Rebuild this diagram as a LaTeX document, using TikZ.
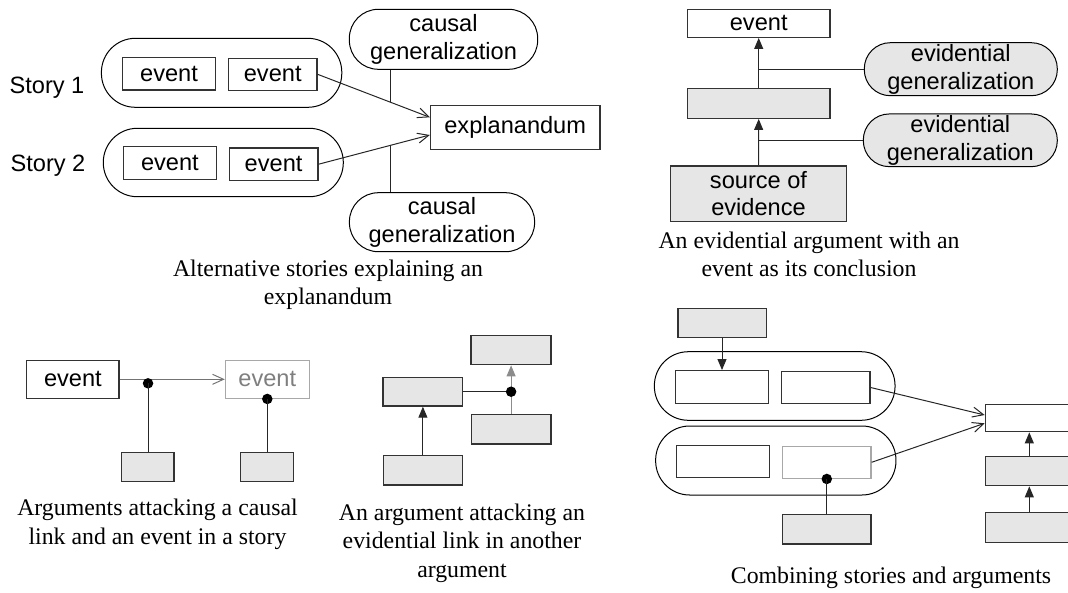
\documentclass[tikz,border=0pt]{standalone}
\usepackage{fontspec}
\setmainfont{Liberation Serif}
\setsansfont{Liberation Sans}
\usetikzlibrary{arrows.meta,calc}
\definecolor{fillg}{HTML}{E6E6E6}
\definecolor{lineg}{HTML}{A8A8A8}
\definecolor{textg}{HTML}{7F7F7F}
\definecolor{boxc}{HTML}{333333}
\begin{document}
\begin{tikzpicture}[x=1pt,y=-1pt,
  sf/.style={font=\fontsize{23.6}{28.3}\selectfont\sffamily},
  box/.style={draw=boxc,line width=1.3pt,inner sep=0pt,sf,align=center},
  gbox/.style={box,fill=fillg},
  ghost/.style={draw=lineg,line width=1.3pt,inner sep=0pt,sf,text=textg},
  pill/.style={draw=black,line width=1pt,rounded corners=#1,inner sep=0pt,sf,align=center},
  graypill/.style={pill=#1,fill=fillg},
  conn/.style={line width=1pt,draw=black!85},
  openarr/.style={conn,-{Straight Barb[length=11pt,width=10pt]}},
  solidarr/.style={conn,-{Triangle[length=11pt,width=9pt]}},
  capt/.style={font=\fontsize{23.8}{28.3}\selectfont,align=center,inner sep=0pt},
  dot/.style={circle,fill=black,draw=none,inner sep=0pt,minimum size=10.5pt}]
\clip (0,0) rectangle (1068,592);

% ---------- top left: alternative stories ----------
\node[sf,inner sep=0pt] (lab1) at (47,87.3) {Story 1};
\node[sf,inner sep=0pt] (lab2) at (48,166) {Story 2};
\node[pill=34pt,minimum width=240.4pt,minimum height=69pt] (s1) at (221.6,72.8) {};
\node[pill=34pt,minimum width=240pt,minimum height=68.4pt] (s2) at (223.3,162.5) {};
\node[box,minimum width=93pt,minimum height=32.7pt] (e1a) at (169,73.7) {event};
\node[box,minimum width=88.5pt,minimum height=32pt] (e1b) at (272.7,74.3) {event};
\node[box,minimum width=93.4pt,minimum height=32.6pt] (e2a) at (169.9,163) {event};
\node[box,minimum width=88.8pt,minimum height=32.3pt] (e2b) at (273.6,164.2) {event};
\node[pill=29pt,minimum width=188.3pt,minimum height=60pt] (cg1) at (443.5,39.3) {causal\\generalization};
\node[pill=29pt,minimum width=185.2pt,minimum height=59pt] (cg2) at (442,222.2) {causal\\generalization};
\node[box,minimum width=169.5pt,minimum height=44pt] (expl) at (515.2,127.3) {explanandum};
\draw[openarr] (e1b.east) -- coordinate[pos=0.647] (m1) ([yshift=10pt]expl.west);
\draw[openarr] (e2b.east) -- coordinate[pos=0.644] (m2) ([yshift=-7.7pt]expl.west);
\draw[conn] (m1) -- (m1 |- cg1.south);
\draw[conn] (m2) -- (m2 |- cg2.north);
\node[capt] (cap1) at (328,285) {Alternative stories explaining an\\explanandum};

% ---------- top right: evidential argument ----------
\node[box,minimum width=142.7pt,minimum height=28pt] (ev) at (758.7,23.3) {event};
\node[gbox,minimum width=142.7pt,minimum height=29.6pt] (mid) at (758.7,103.5) {};
\node[gbox,minimum width=176.4pt,minimum height=55.3pt,font=\fontsize{23.6}{26.7}\selectfont\sffamily] (src) at (758.5,193.7) {source of\\evidence};
\node[graypill=26pt,minimum width=193pt,minimum height=53pt] (eg1) at (960.8,69.2) {evidential\\generalization};
\node[graypill=26pt,minimum width=194pt,minimum height=52.7pt] (eg2) at (960.3,140.3) {evidential\\generalization};
\draw[solidarr] (mid.north) -- (ev.south);
\draw[solidarr] (src.north) -- (mid.south);
\draw[conn] (eg1.west) -- (eg1.west -| ev.south);
\draw[conn] (eg2.west) -- (eg2.west -| mid.south);
\node[capt] (cap2) at (809,254.2) {An evidential argument with an\\event as its conclusion};

% ---------- bottom left: attacking causal link and event ----------
\node[box,minimum width=92.2pt,minimum height=38pt] (evL) at (72.9,379.3) {event};
\node[ghost,minimum width=83.8pt,minimum height=38pt] (evG) at (267.3,379.3) {event};
\node[gbox,minimum width=52.8pt,minimum height=29pt] (gb1) at (147.7,466.8) {};
\node[gbox,minimum width=52.8pt,minimum height=29pt] (gb2) at (267.1,466.8) {};
\draw[openarr,draw=black!55] (evL.east) -- coordinate[pos=0.27] (a1) (evG.west);
\node[dot] (d1) at ([yshift=-4pt]a1) {};
\draw[conn] (d1.center) -- (d1.center |- gb1.north);
\node[dot] (d2) at (evG.south) {};
\draw[conn] (d2.center) -- (d2.center |- gb2.north);
\node[capt] (cap3) at (157.5,524.2) {Arguments attacking a causal\\link and an event in a story};

% ---------- bottom middle: attacking an evidential link ----------
\node[gbox,minimum width=79.6pt,minimum height=28.7pt] (bA) at (422.9,391.7) {};
\node[gbox,minimum width=79.2pt,minimum height=29.3pt] (bB) at (422.9,470.3) {};
\node[gbox,minimum width=80pt,minimum height=29pt] (bC) at (511.1,350.2) {};
\node[gbox,minimum width=79.6pt,minimum height=29.7pt] (bD) at (511.1,429.2) {};
\draw[solidarr] (bB.north) -- (bA.south);
\draw[solidarr,draw=black!45,fill=black!45] (bD.north) -- (bC.south);
\coordinate (att) at (bD.north |- bA.east);
\draw[conn] (bA.east) -- (att);
\node[dot] (d3) at (att) {};
\node[capt] (cap4) at (462,543.3) {An argument attacking an\\evidential link in another\\argument};

% ---------- bottom right: combining ----------
\node[gbox,minimum width=88.3pt,minimum height=29pt] (tg) at (722,322.8) {};
\node[pill=34pt,minimum width=240.7pt,minimum height=68.6pt] (p1) at (774.7,386) {};
\node[pill=34pt,minimum width=240.3pt,minimum height=69pt] (p2) at (775.8,460.5) {};
\node[box,minimum width=92.6pt,minimum height=32.6pt] (b1a) at (722,387) {};
\node[box,minimum width=88.3pt,minimum height=32.4pt] (b1b) at (825.8,387.5) {};
\node[box,minimum width=92.6pt,minimum height=32.4pt] (b2a) at (723,461.5) {};
\node[ghost,minimum width=88.3pt,minimum height=32pt] (b2b) at (826.8,462.3) {};
\node[gbox,minimum width=88.3pt,minimum height=29.7pt] (gb3) at (826.8,529.2) {};
\node[box,minimum width=88pt,minimum height=27.4pt] (R1) at (1029.3,418) {};
\node[gbox,minimum width=88pt,minimum height=29.4pt] (R2) at (1029.3,471) {};
\node[gbox,minimum width=88pt,minimum height=29.6pt] (R3) at (1029.3,527.5) {};
\draw[solidarr] (tg.south) -- (tg.south |- b1a.north);
\draw[openarr] (b1b.east) -- ([yshift=3pt]R1.west);
\draw[openarr] (b2b.east) -- ([yshift=-5.3pt]R1.west);
\draw[solidarr] (R2.north) -- (R1.south);
\draw[solidarr] (R3.north) -- (R2.south);
\node[dot] (d4) at (b2b.south) {};
\draw[conn] (d4.center) -- (d4.center |- gb3.north);
\node[capt] (cap5) at (891,578.3) {Combining stories and arguments};
\end{tikzpicture}
\end{document}
